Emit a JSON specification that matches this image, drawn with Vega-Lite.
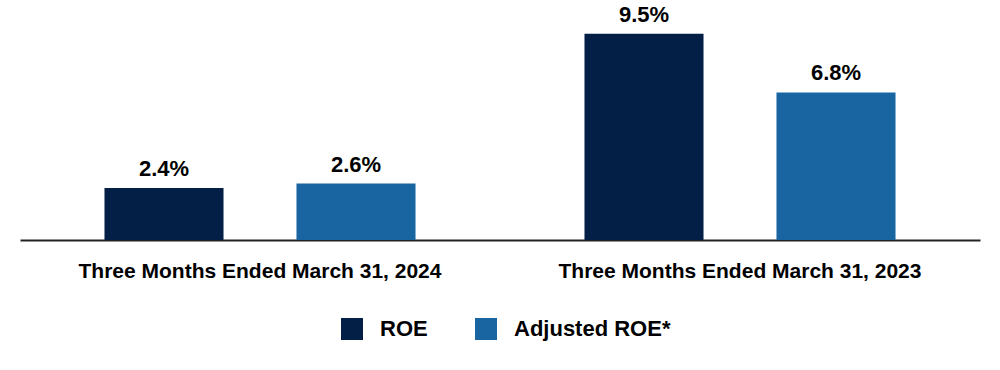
{
  "$schema": "https://vega.github.io/schema/vega-lite/v6.json",
  "width": 960,
  "height": 217,
  "autosize": {"type": "none"},
  "padding": {"left": 20, "top": 23, "right": 20, "bottom": 130},
  "background": "white",
  "config": {"view": {"stroke": null}, "font": "Liberation Sans"},
  "data": {
    "values": [
      {"period": "Three Months Ended March 31, 2024", "series": "ROE", "value": 2.4, "label": "2.4%"},
      {"period": "Three Months Ended March 31, 2024", "series": "Adjusted ROE*", "value": 2.6, "label": "2.6%"},
      {"period": "Three Months Ended March 31, 2023", "series": "ROE", "value": 9.5, "label": "9.5%"},
      {"period": "Three Months Ended March 31, 2023", "series": "Adjusted ROE*", "value": 6.8, "label": "6.8%"}
    ]
  },
  "encoding": {
    "x": {
      "field": "period", "type": "nominal", "sort": null,
      "scale": {"paddingInner": 0, "paddingOuter": 0},
      "axis": {"title": null, "labelAngle": 0, "ticks": false, "domainColor": "#222222", "domainWidth": 2,
               "labelFont": "Liberation Sans", "labelFontSize": 21, "labelFontWeight": "bold", "labelColor": "#000000",
               "labelPadding": 20, "labelLimit": 0}
    },
    "xOffset": {"field": "series", "type": "nominal", "sort": ["ROE", "Adjusted ROE*"],
                "scale": {"paddingInner": 0.38, "paddingOuter": 0.44}},
    "y": {"field": "value", "type": "quantitative", "scale": {"domain": [0, 10]}, "axis": null}
  },
  "layer": [
    {
      "mark": {"type": "bar"},
      "encoding": {
        "color": {
          "field": "series", "type": "nominal",
          "scale": {"domain": ["ROE", "Adjusted ROE*"], "range": ["#031f45", "#1965a1"]},
          "legend": {
            "title": null, "orient": "none", "direction": "horizontal", "legendX": 321, "legendY": 295,
            "symbolType": "square", "symbolSize": 484, "symbolStrokeWidth": 0,
            "labelFont": "Liberation Sans", "labelFontSize": 22, "labelFontWeight": "bold", "labelColor": "#000000",
            "labelOffset": 17, "columnPadding": 47, "symbolOpacity": 1, "labelLimit": 0
          }
        }
      }
    },
    {
      "mark": {"type": "text", "baseline": "alphabetic", "dy": -12, "font": "Liberation Sans", "fontSize": 22, "fontWeight": "bold", "color": "#000000"},
      "encoding": {"text": {"field": "label"}}
    }
  ]
}
